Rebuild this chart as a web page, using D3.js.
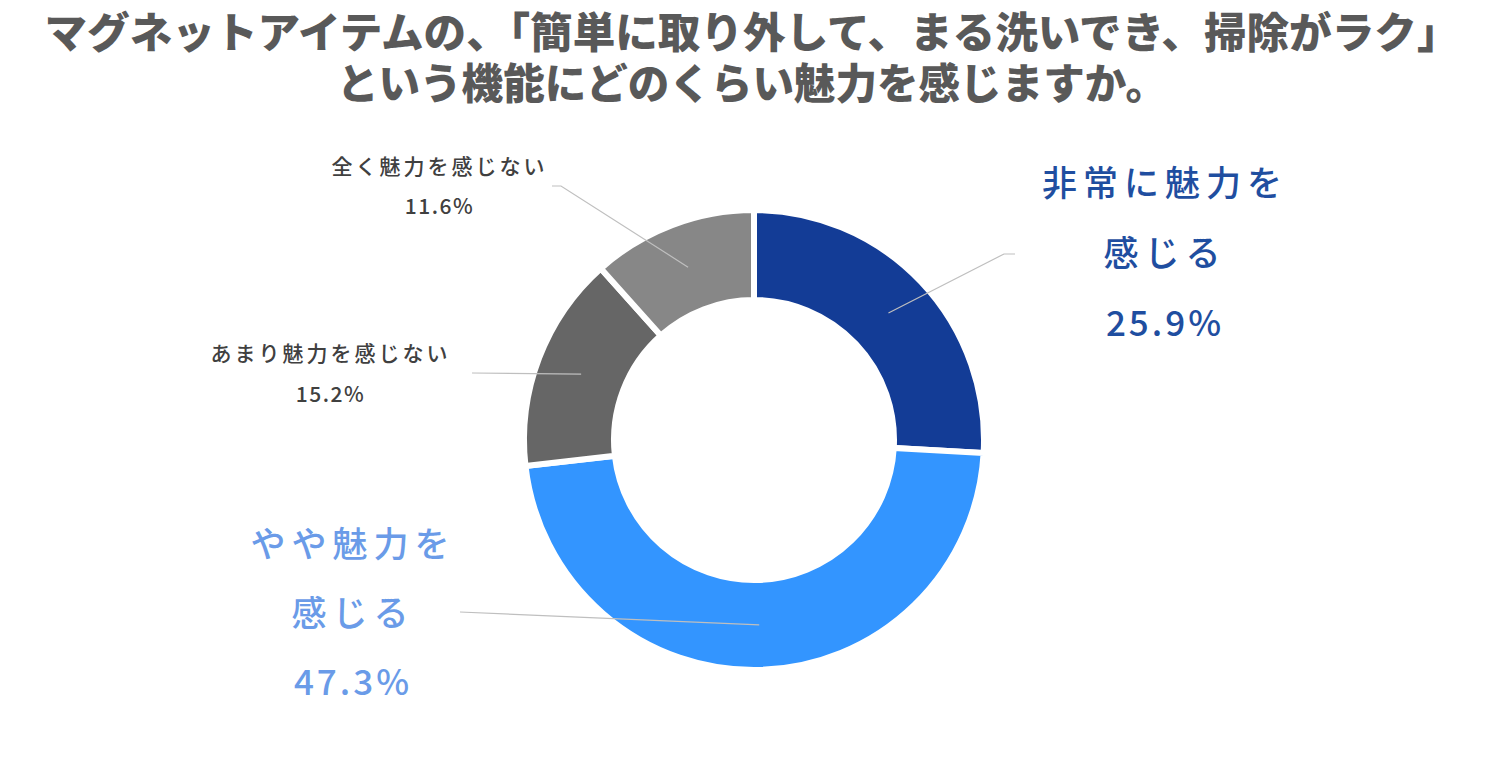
<!DOCTYPE html>
<html>
<head>
<meta charset="utf-8">
<script src="https://cdn.jsdelivr.net/npm/d3@7"></script>
<style>
  body { margin: 0; background: #fff; }
  svg text { font-family: "Noto Sans CJK JP", "Noto Sans", sans-serif; }
</style>
</head>
<body>
<svg id="chart"></svg>
<script>
// ---- data
let titleLines = ['マグネットアイテムの、「簡単に取り外して、まる洗いでき、掃除がラク」', 'という機能にどのくらい魅力を感じますか。']
let categories = ['非常に魅力を感じる', 'やや魅力を感じる', 'あまり魅力を感じない', '全く魅力を感じない']
let values = [25.9, 47.3, 15.2, 11.6]
let labelLines = [['非常に魅力を', '感じる'], ['やや魅力を', '感じる'], ['あまり魅力を感じない'], ['全く魅力を感じない']]
let sliceColors = ['#133c96', '#3395ff', '#666666', '#878787']

// ---- layout
let W = 1504, H = 774
let cx = 754, cy = 440
let rOut = 230, rIn = 140

let svg = d3.select('#chart').attr('width', W).attr('height', H)

// title
svg.append('g').selectAll('text').data(titleLines)
  .enter().append('text')
  .attr('x', 752)
  .attr('y', (d, i) => 48 + i * 51)
  .attr('text-anchor', 'middle')
  .attr('font-size', '42px')
  .attr('font-weight', 900)
  .attr('fill', '#595959')
  .attr('textLength', (d, i) => i == 0 ? 1415 : 830)
  .attr('lengthAdjust', 'spacingAndGlyphs')
  .text(d => d)

let pie = d3.pie().sort(null).value(d => d)
let arcs = pie(values)
let arc = d3.arc().innerRadius(rIn).outerRadius(rOut)

let donut = svg.append('g').attr('transform', `translate(${cx},${cy})`)

donut.selectAll('path').data(arcs)
  .enter().append('path')
  .attr('d', arc)
  .attr('fill', (d, i) => sliceColors[i])
  .attr('stroke', '#fff')
  .attr('stroke-width', 6)

// label settings per slice (position of text block + leader start)
let labelCfg = [
  {x: 1162, y: 196, dy: 70, size: 35, ls: 6, color: '#1f4ea0', weight: 500, lead: [[1015, 254], [1004, 254]]},
  {x: 350, y: 557, dy: 69, size: 35, ls: 6, color: '#6a9be8', weight: 500, lead: [[460, 612]]},
  {x: 329, y: 361, dy: 41, size: 21, ls: 3, color: '#404040', weight: 500, lead: [[472, 373]]},
  {x: 438, y: 174, dy: 40, size: 21, ls: 3, color: '#404040', weight: 500, lead: [[552, 186], [561, 186]]}
]

// leader lines to the middle of each ring segment
let line = d3.line()
svg.append('g').selectAll('path').data(arcs)
  .enter().append('path')
  .attr('d', (d, i) => {
    let c = arc.centroid(d)
    let pts = labelCfg[i].lead.concat([[c[0] + cx, c[1] + cy]])
    return line(pts)
  })
  .attr('fill', 'none')
  .attr('stroke', '#bfbfbf')
  .attr('stroke-width', 1.2)

// labels
let labels = svg.append('g').selectAll('g').data(arcs)
  .enter().append('g')

labels.each(function(d, i) {
  let cfg = labelCfg[i]
  let lines = labelLines[i].concat([values[i].toFixed(1) + '%'])
  d3.select(this).selectAll('text').data(lines)
    .enter().append('text')
    .attr('x', cfg.x + cfg.ls / 2)
    .attr('y', (t, j) => cfg.y + j * cfg.dy)
    .attr('text-anchor', 'middle')
    .attr('font-size', cfg.size + 'px')
    .attr('font-weight', cfg.weight)
    .attr('letter-spacing', (t, j) => j == lines.length - 1 ? cfg.ls / 2 : cfg.ls)
    .attr('fill', cfg.color)
    .text(t => t)
})
</script>
</body>
</html>
